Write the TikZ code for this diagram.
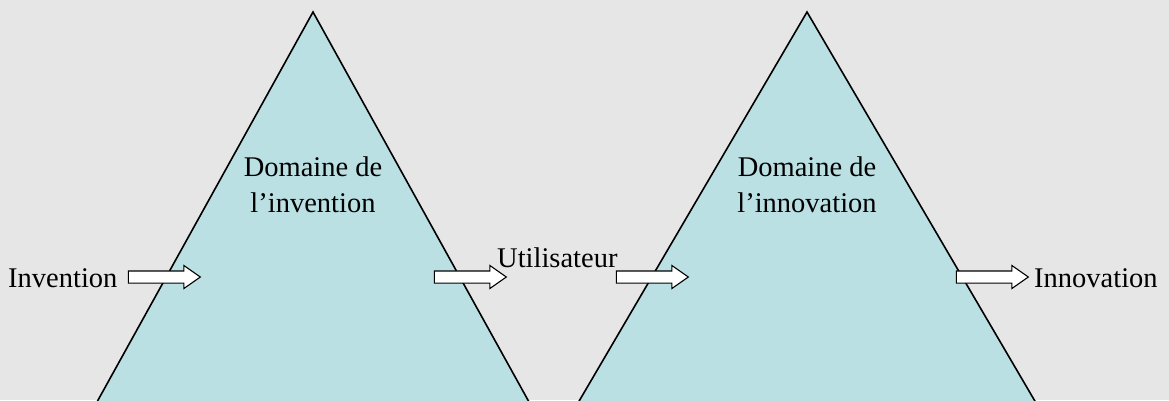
\documentclass[tikz,border=0pt]{standalone}
\usepackage{fontspec}
\setmainfont{Liberation Serif}
\usetikzlibrary{shapes.arrows}
\definecolor{bgc}{HTML}{E6E6E6}
\definecolor{trif}{HTML}{BAE0E3}
\begin{document}
\begin{tikzpicture}[x=1pt,y=-1pt,
  tri/.style={fill=trif,draw=black,line width=1.6pt,line join=miter},
  lbl/.style={inner sep=0pt,font=\fontsize{28.5}{34}\selectfont},
  blockarrow/.style={single arrow,draw=black,fill=white,line width=1.1pt,
    inner sep=0pt,inner ysep=5.5pt,minimum height=72pt,
    single arrow head extend=5.5pt,single arrow tip angle=70,anchor=center}]
\fill[bgc] (0,0) rectangle (1169,400);
\useasboundingbox (0,0) rectangle (1169,400);
\begin{scope}
\clip (0,0) rectangle (1169,400);
\draw[tri] (313,12) -- (87,420) -- (539,420) -- cycle;
\draw[tri] (807,12) -- (568,420) -- (1046,420) -- cycle;
\end{scope}
\node[lbl,anchor=base] (t1a) at (313,176) {Domaine de};
\node[lbl,anchor=base] (t1b) at (313,212) {l’invention};
\node[lbl,anchor=base] (t2a) at (807,176) {Domaine de};
\node[lbl,anchor=base] (t2b) at (807,212) {l’innovation};
\node[lbl,anchor=base west] (inv) at (8,287) {Invention};
\node[lbl,anchor=base west] (util) at (497,267) {Utilisateur};
\node[lbl,anchor=base west] (inno) at (1034,287) {Innovation};
\node[blockarrow] (a1) at (160,277) {};
\node[blockarrow] (a2) at (466,277) {};
\node[blockarrow] (a3) at (648,277) {};
\node[blockarrow] (a4) at (988,277) {};
\end{tikzpicture}
\end{document}
